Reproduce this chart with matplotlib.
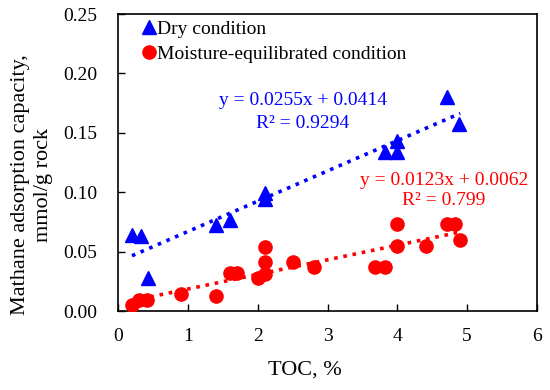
import matplotlib
matplotlib.use("Agg")
import matplotlib.pyplot as plt
import numpy as np

plt.rcParams['font.family'] = ['Liberation Serif', 'DejaVu Serif']
plt.rcParams['mathtext.fontset'] = 'stix'

# Dry condition (triangles)
dry_toc = [0.2, 0.33, 0.43, 1.4, 1.6, 2.1, 2.1, 3.82, 4.0, 4.0, 4.71, 4.89]
dry_cap = [0.064, 0.063, 0.028, 0.072, 0.077, 0.094, 0.099, 0.134, 0.134, 0.143, 0.180, 0.157]

# Moisture-equilibrated condition (circles)
moist_toc = [0.2, 0.3, 0.41, 0.9, 1.4, 1.6, 1.7, 2.0, 2.1, 2.1, 2.1, 2.5, 2.81,
             3.68, 3.83, 4.0, 4.0, 4.41, 4.71, 4.82, 4.9]
moist_cap = [0.005, 0.009, 0.009, 0.014, 0.013, 0.032, 0.032, 0.0275, 0.031, 0.0415, 0.0536,
             0.0415, 0.0368, 0.0368, 0.0368, 0.073, 0.0547, 0.0547, 0.073, 0.073, 0.0598]

# Linear trendline coefficients (slope, intercept) and R²
dry_fit = [0.0255, 0.0414]
dry_r2 = "0.9294"
moist_fit = [0.0123, 0.0062]
moist_r2 = "0.799"
fit_range = [0.2, 4.9]

x_ticks = [0, 1, 2, 3, 4, 5, 6]
y_ticks = [0.00, 0.05, 0.10, 0.15, 0.20, 0.25]

W, H = 550, 390
fig = plt.figure(figsize=(5.5, 3.9), dpi=100)
ax = fig.add_axes([118/W, 1 - 311/H, (537-118)/W, (311-14)/H])

xf = np.array(fit_range)
ax.plot(xf, dry_fit[0]*xf + dry_fit[1], color='blue', linestyle=(0, (1, 1.6)), linewidth=2.6, zorder=2)
ax.plot(xf, moist_fit[0]*xf + moist_fit[1], color='red', linestyle=(0, (1, 1.6)), linewidth=2.6, zorder=2)

ax.plot(dry_toc, dry_cap, linestyle='none', marker='^', markersize=10.5, color='blue',
        label='Dry condition', zorder=3)
ax.plot(moist_toc, moist_cap, linestyle='none', marker='o', markersize=9.5, color='red',
        label='Moisture-equilibrated condition', zorder=3)

ax.text(2.65, 0.1776, f"y = {dry_fit[0]}x + {dry_fit[1]}", color='blue', fontsize=14,
        ha='center', va='center')
ax.text(2.65, 0.158, f"R² = {dry_r2}", color='blue', fontsize=14, ha='center', va='center')
ax.text(4.67, 0.110, f"y = {moist_fit[0]}x + {moist_fit[1]}", color='red', fontsize=14,
        ha='center', va='center')
ax.text(4.67, 0.0926, f"R² = {moist_r2}", color='red', fontsize=14, ha='center', va='center')

ax.set_xlim(0, 6)
ax.set_ylim(0, 0.25)
ax.set_xticks(x_ticks)
ax.set_yticks(y_ticks)
ax.set_xticklabels([str(t) for t in x_ticks])
ax.set_yticklabels([f"{t:.2f}" for t in y_ticks])
ax.tick_params(direction='in', length=5, width=1, labelsize=14, color='black')
ax.tick_params(axis='y', pad=15)
ax.tick_params(axis='x', pad=12)
for s in ax.spines.values():
    s.set_linewidth(1.2)
    s.set_color('black')

fig.text(305/W, 1 - 370/H, "TOC, %", fontsize=16, ha='center', va='center')
fig.text(32/W, 1 - 185/H, "Mathane adsorption capacity,\nmmol/g rock", fontsize=16,
         ha='center', va='center', rotation=90, multialignment='center', linespacing=1.3)

leg = ax.legend(loc='upper left', frameon=False, fontsize=14, handletextpad=0.0,
                handlelength=0.8, borderaxespad=0.0, labelspacing=0.4,
                bbox_to_anchor=(0.038, 1.006))

fig.savefig("out.png", dpi=100)
